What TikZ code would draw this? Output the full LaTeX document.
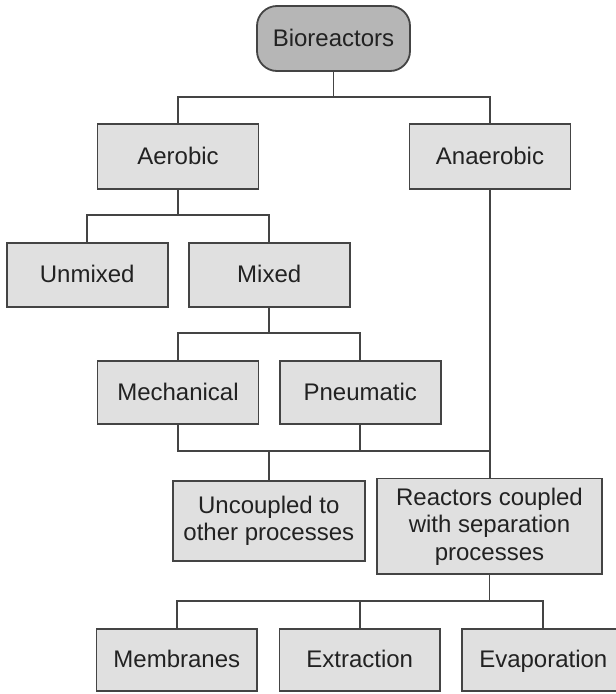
\documentclass[tikz,border=0pt]{standalone}
\usepackage{fontspec}
\setmainfont{Liberation Sans}
\definecolor{linec}{HTML}{444444}
\definecolor{boxc}{HTML}{E0E0E0}
\definecolor{rootc}{HTML}{B6B6B6}
\definecolor{txtc}{HTML}{222222}
\begin{document}
\begin{tikzpicture}[x=1pt,y=-1pt,
  box/.style={draw=linec, line width=1.8pt, fill=boxc, inner sep=0pt, align=center,
    text=txtc, font=\fontsize{24}{27.5}\selectfont, minimum height=65pt},
  one/.style={text height=18.5pt, text depth=3pt},
  conn/.style={draw=linec, line width=1.8pt}]
\useasboundingbox (0,0) rectangle (616,694);
\clip (0,0) rectangle (616,694);
\fill[white] (0,0) rectangle (616,694);
\node[box, one, fill=rootc, rounded corners=20pt, minimum width=153pt] (bio) at (333.5,38.5) {Bioreactors};
\node[box, one, minimum width=161pt] (aer) at (178,156.5) {Aerobic};
\node[box, one, minimum width=161pt] (ana) at (490,156.5) {Anaerobic};
\node[box, one, minimum width=161pt, minimum height=64pt] (unm) at (87.2,274.6) {Unmixed};
\node[box, one, minimum width=161pt, minimum height=64pt] (mix) at (269.2,274.6) {Mixed};
\node[box, one, minimum width=161pt, minimum height=63.5pt] (mech) at (178,392.4) {Mechanical};
\node[box, one, minimum width=161pt, minimum height=63.5pt] (pneu) at (360.3,392.4) {Pneumatic};
\node[box, minimum width=192.3pt, minimum height=79.7pt] (unc) at (268.8,520.8) {Uncoupled to\\other processes};
\node[box, minimum width=225.6pt, minimum height=95.8pt] (rea) at (489.5,526.4) {Reactors coupled\\with separation\\processes};
\node[box, one, minimum width=160.5pt, minimum height=62pt] (mem) at (176.8,660) {Membranes};
\node[box, one, minimum width=160.5pt, minimum height=62pt] (ext) at (359.7,660) {Extraction};
\node[box, one, minimum width=162pt, minimum height=62pt] (eva) at (543.3,660) {Evaporation};
% level 1
\draw[conn] (bio.south) -- (bio.south |- 0,97);
\draw[conn] (aer.north) |- (ana.north |- 0,97) -- (ana.north);
% level 2
\draw[conn] (aer.south) -- (aer.south |- 0,215);
\draw[conn] (unm.north) |- (mix.north |- 0,215) -- (mix.north);
% level 3
\draw[conn] (mix.south) -- (mix.south |- 0,333);
\draw[conn] (mech.north) |- (pneu.north |- 0,333) -- (pneu.north);
% level 4
\draw[conn] (mech.south) |- (ana.south |- 0,451);
\draw[conn] (pneu.south) -- (pneu.south |- 0,451);
\draw[conn] (ana.south) -- (ana.south |- rea.north);
\draw[conn] (unc.north) -- (unc.north |- 0,451);
% level 5
\draw[conn] (rea.south) -- (rea.south |- 0,601);
\draw[conn] (mem.north) |- (eva.north |- 0,601) -- (eva.north);
\draw[conn] (ext.north) -- (ext.north |- 0,601);
\end{tikzpicture}
\end{document}
